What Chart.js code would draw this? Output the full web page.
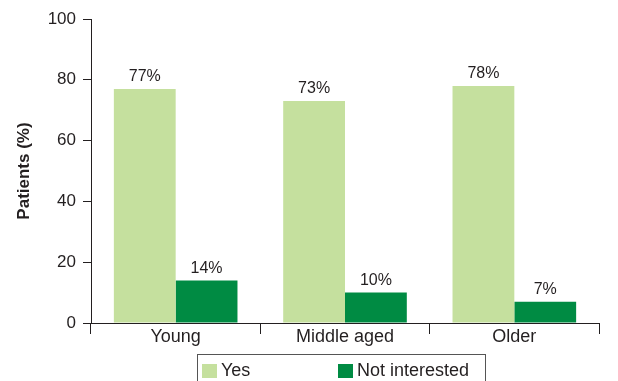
<!DOCTYPE html>
<html>
<head>
<meta charset="utf-8">
<script src="https://cdn.jsdelivr.net/npm/chart.js@4"></script>
<style>
  html, body { margin: 0; padding: 0; background: #fff; }
  #wrap { width: 618px; height: 381px; }
</style>
</head>
<body>
<div id="wrap"><canvas id="patients-chart" width="618" height="381"></canvas></div>
<script>
const ageGroups = ["Young", "Middle aged", "Older"];
const yesValues = [77, 73, 78];
const notInterestedValues = [14, 10, 7];
const yTicks = [0, 20, 40, 60, 80, 100];

const lightGreen = "#c5e09e";
const darkGreen = "#008b43";
const ink = "#231f20";
const fontFamily = "'Liberation Sans', Arial, Helvetica, sans-serif";

// value labels above each bar
const barLabels = {
  id: "barLabels",
  afterDatasetsDraw(chart) {
    const ctx = chart.ctx;
    ctx.save();
    ctx.font = "16px " + fontFamily;
    ctx.fillStyle = ink;
    ctx.textAlign = "center";
    ctx.textBaseline = "bottom";
    chart.data.datasets.forEach((ds, i) => {
      chart.getDatasetMeta(i).data.forEach((bar, j) => {
        ctx.fillText(ds.data[j] + "%", bar.x, bar.y - 4);
      });
    });
    ctx.restore();
  },
};

// boxed legend under the x axis
const boxLegend = {
  id: "boxLegend",
  afterDraw(chart) {
    const ctx = chart.ctx;
    const top = 354;
    ctx.save();
    ctx.strokeStyle = "#555";
    ctx.lineWidth = 1;
    ctx.strokeRect(197.5, top + 0.5, 288, 40);
    ctx.font = "18px " + fontFamily;
    ctx.textBaseline = "middle";
    const starts = [202, 338];
    chart.data.datasets.forEach((ds, i) => {
      const x = starts[i];
      ctx.fillStyle = ds.backgroundColor;
      ctx.fillRect(x, top + 10, 15, 14);
      ctx.fillStyle = ink;
      ctx.fillText(ds.label, x + 19, top + 17);
    });
    ctx.restore();
  },
};

new Chart(document.querySelector("#patients-chart"), {
  type: "bar",
  data: {
    labels: ageGroups,
    datasets: [
      { label: "Yes", data: yesValues, backgroundColor: lightGreen },
      { label: "Not interested", data: notInterestedValues, backgroundColor: darkGreen },
    ],
  },
  options: {
    responsive: false,
    animation: false,
    events: [],
    layout: { padding: { top: 19, right: 19, bottom: 28, left: 0 } },
    datasets: { bar: { categoryPercentage: 0.73, barPercentage: 1 } },
    plugins: {
      legend: { display: false },
      tooltip: { enabled: false },
    },
    scales: {
      x: {
        offset: true,
        afterFit: (scale) => { scale.height = 30; },
        grid: { offset: true, drawOnChartArea: false, tickLength: 11, color: ink },
        border: { color: ink, width: 1 },
        ticks: { color: ink, padding: -8, font: { family: fontFamily, size: 18 } },
      },
      y: {
        min: 0,
        max: 100,
        afterFit: (scale) => { scale.width = 91; },
        afterBuildTicks: (scale) => { scale.ticks = yTicks.map((v) => ({ value: v })); },
        grid: { drawOnChartArea: false, tickLength: 8, color: ink },
        border: { color: ink, width: 1 },
        ticks: { color: ink, padding: 7, font: { family: fontFamily, size: 17 } },
        title: {
          display: true,
          text: "Patients (%)",
          color: ink,
          padding: { top: 14, bottom: 0 },
          font: { family: fontFamily, size: 17, weight: "bold" },
        },
      },
    },
  },
  plugins: [barLabels, boxLegend],
});
</script>
</body>
</html>
